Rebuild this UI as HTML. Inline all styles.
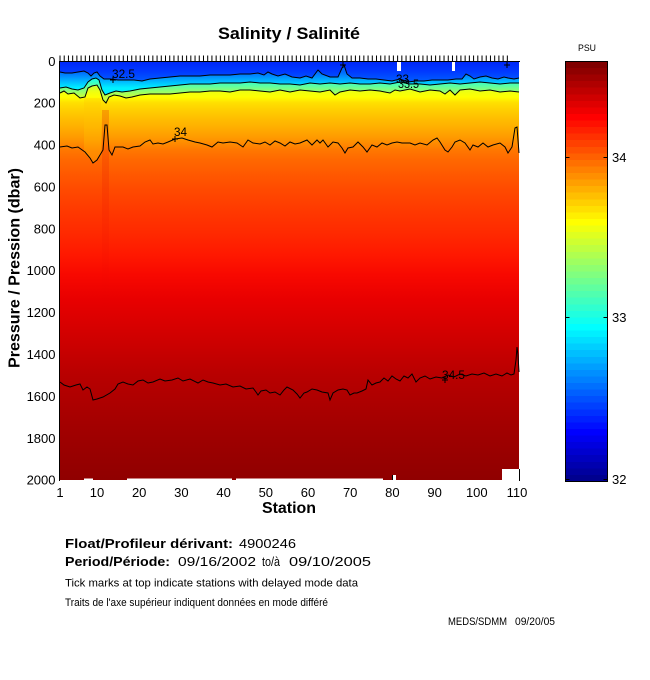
<!DOCTYPE html>
<html><head><meta charset="utf-8"><style>
html,body{margin:0;padding:0;background:#fff;width:650px;height:680px;overflow:hidden}
svg{display:block}
text{font-family:"Liberation Sans",Arial,sans-serif;fill:#000}
</style></head><body>
<svg width="650" height="680" viewBox="0 0 650 680" xmlns="http://www.w3.org/2000/svg">
<defs>
<linearGradient id="bg" gradientUnits="userSpaceOnUse" x1="0" y1="61" x2="0" y2="480">
<stop offset="0" stop-color="#a0ff60"/>
<stop offset=".057" stop-color="#bfff40"/>
<stop offset=".074" stop-color="#efff10"/>
<stop offset=".086" stop-color="#ffff00"/>
<stop offset=".100" stop-color="#ffdf00"/>
<stop offset=".117" stop-color="#ffcf00"/>
<stop offset=".136" stop-color="#ffbf00"/>
<stop offset=".158" stop-color="#ffaf00"/>
<stop offset=".177" stop-color="#ff9f00"/>
<stop offset=".193" stop-color="#ff8f00"/>
<stop offset=".212" stop-color="#ff7800"/>
<stop offset=".236" stop-color="#ff6800"/>
<stop offset=".272" stop-color="#ff5800"/>
<stop offset=".313" stop-color="#ff4800"/>
<stop offset=".360" stop-color="#ff3800"/>
<stop offset=".415" stop-color="#ff2800"/>
<stop offset=".463" stop-color="#ff1800"/>
<stop offset=".511" stop-color="#f80800"/>
<stop offset=".570" stop-color="#e80000"/>
<stop offset=".630" stop-color="#d80000"/>
<stop offset=".690" stop-color="#c80000"/>
<stop offset=".749" stop-color="#b80000"/>
<stop offset=".809" stop-color="#ae0000"/>
<stop offset=".869" stop-color="#a30000"/>
<stop offset=".928" stop-color="#9a0000"/>
<stop offset=".976" stop-color="#930000"/>
<stop offset="1" stop-color="#900000"/>
</linearGradient>
<linearGradient id="g1" gradientUnits="userSpaceOnUse" x1="0" y1="62" x2="0" y2="80">
<stop offset="0" stop-color="#0028f8"/><stop offset=".5" stop-color="#0038ff"/><stop offset="1" stop-color="#0058ff"/>
</linearGradient>
<linearGradient id="g2" gradientUnits="userSpaceOnUse" x1="0" y1="72" x2="0" y2="88">
<stop offset="0" stop-color="#0068ff"/><stop offset="1" stop-color="#00f0ff"/>
</linearGradient>
<linearGradient id="g3" gradientUnits="userSpaceOnUse" x1="0" y1="80" x2="0" y2="96">
<stop offset="0" stop-color="#20ffdf"/><stop offset="1" stop-color="#c0ff40"/>
</linearGradient>
<linearGradient id="st" gradientUnits="userSpaceOnUse" x1="0" y1="110" x2="0" y2="340">
<stop offset="0" stop-color="#e00000" stop-opacity=".22"/><stop offset="1" stop-color="#e00000" stop-opacity="0"/>
</linearGradient>
</defs>

<!-- title -->
<text x="218" y="39" font-size="17" font-weight="bold" textLength="142" lengthAdjust="spacingAndGlyphs">Salinity / Salinité</text>

<!-- axes lines (under image) -->
<line x1="59.5" y1="61" x2="59.5" y2="481" stroke="#000"/>

<!-- field -->
<rect x="60" y="62" width="459" height="418" fill="url(#bg)"/>
<polygon points="84,98 101,98 101,155 93,163 84,152" fill="#ffc800" opacity=".3"/>
<rect x="102" y="110" width="7" height="230" fill="url(#st)"/>
<polygon fill="url(#g3)" points="60,62 60,93 64,91 68,94 74,93 80,98 85,97 88,88 92,86 97,85 100,90 103,100 106,103 109,97 114,95 120,96 126,98 132,97 140,95 150,94 160,94 170,94 180,93 190,92 200,92 210,91 220,91 230,92 240,90 250,90 260,91 270,92 280,90 290,92 300,90 310,91 320,92 330,90 335,95 340,92 350,90 360,91 370,90 380,91 390,93 395,90 400,91 410,89 420,92 430,90 440,91 445,94 450,90 455,95 460,90 470,89 480,91 490,90 500,92 510,91 519,92 519,62"/>
<polygon fill="url(#g2)" points="60,62 60,88 66,87 72,89 78,90 84,88 88,82 92,79 96,78 99,80 102,90 105,95 110,93 116,91 122,92 130,91 140,89 150,88 160,87 170,86 180,85 190,84 200,84 210,84 220,83 230,83 240,83 250,82 260,83 270,83 280,84 290,84 300,85 310,83 320,84 330,83 340,84 350,83 360,84 370,84 380,83 390,84 400,82 410,84 420,84 430,85 440,84 450,83 460,84 470,83 480,82 490,83 500,84 510,83 519,83 519,62"/>
<polygon fill="url(#g1)" points="60,62 60,72 65,73 72,73 78,72 84,71 88,73 91,76 94,73 97,72 100,76 104,79 110,79 118,80 126,80 134,80 142,81 150,79 160,78 170,77 180,76 190,76 200,76 210,75 220,75 230,75 240,74 250,74 258,73 264,75 268,72 272,74 278,76 285,74 292,77 300,78 306,76 312,78 318,70 322,74 330,77 338,77 342,68 344,65 347,74 352,78 360,78 368,79 376,79 384,80 392,81 400,79 408,82 416,81 424,81 432,80 440,80 448,80 456,79 462,79 466,74 470,76 474,79 480,77 486,76 492,78 498,79 504,77 508,78 514,79 519,78 519,62"/>

<!-- contours -->
<g fill="none" stroke="#000" stroke-width="1">
<polyline points="60,72 65,73 72,73 78,72 84,71 88,73 91,76 94,73 97,72 100,76 104,79 110,79 118,80 126,80 134,80 142,81 150,79 160,78 170,77 180,76 190,76 200,76 210,75 220,75 230,75 240,74 250,74 258,73 264,75 268,72 272,74 278,76 285,74 292,77 300,78 306,76 312,78 318,70 322,74 330,77 338,77 342,68 344,65 347,74 352,78 360,78 368,79 376,79 384,80 392,81 400,79 408,82 416,81 424,81 432,80 440,80 448,80 456,79 462,79 466,74 470,76 474,79 480,77 486,76 492,78 498,79 504,77 508,78 514,79 519,78"/>
<polyline points="60,88 66,87 72,89 78,90 84,88 88,82 92,79 96,78 99,80 102,90 105,95 110,93 116,91 122,92 130,91 140,89 150,88 160,87 170,86 180,85 190,84 200,84 210,84 220,83 230,83 240,83 250,82 260,83 270,83 280,84 290,84 300,85 310,83 320,84 330,83 340,84 350,83 360,84 370,84 380,83 390,84 400,82 410,84 420,84 430,85 440,84 450,83 460,84 470,83 480,82 490,83 500,84 510,83 519,83"/>
<polyline points="60,93 64,91 68,94 74,93 80,98 85,97 88,88 92,86 97,85 100,90 103,100 106,103 109,97 114,95 120,96 126,98 132,97 140,95 150,94 160,94 170,94 180,93 190,92 200,92 210,91 220,91 230,92 240,90 250,90 260,91 270,92 280,90 290,92 300,90 310,91 320,92 330,90 335,95 340,92 350,90 360,91 370,90 380,91 390,93 395,90 400,91 410,89 420,92 430,90 440,91 445,94 450,90 455,95 460,90 470,89 480,91 490,90 500,92 510,91 519,92"/>
<polyline points="60,147 67,146 72,148 78,147 85,152 90,158 93,163 97,160 100,155 103,150 105,125 107,125 109,150 112,155 115,147 123,147 128,149 133,147 140,146 145,142 150,140 153,144 158,143 163,144 168,142 175,139 182,138 188,140 195,142 200,143 207,145 212,147 218,142 223,143 230,142 237,143 243,147 248,140 253,143 260,144 265,142 270,145 275,141 280,143 285,146 290,142 295,144 300,143 307,140 312,145 317,140 320,143 323,140 328,147 333,142 338,143 342,148 345,153 348,148 353,147 358,142 363,147 367,152 372,145 377,147 382,143 387,145 392,143 397,142 402,143 410,143 415,145 420,143 427,145 433,140 437,138 440,142 445,150 448,152 452,147 455,142 460,140 465,143 470,150 473,145 478,147 483,143 488,147 493,145 500,143 505,147 508,153 512,147 515,128 517,127 518,140 519,153"/>
<polyline points="60,382 64,385 70,387 76,385 80,384 83,390 87,387 90,389 93,400 97,399 103,397 110,393 115,389 118,384 123,382 128,384 133,385 138,381 143,380 148,383 153,382 160,379 165,381 172,380 178,378 183,381 190,379 198,383 203,380 208,382 213,383 220,385 226,384 233,387 240,386 246,389 253,388 256,392 258,395 261,391 266,390 270,393 275,392 280,395 284,390 287,387 293,390 297,394 300,398 304,393 307,392 312,389 317,390 322,392 328,393 330,400 333,393 338,390 343,389 347,390 350,395 354,393 357,393 362,391 366,389 368,380 372,385 376,383 380,382 384,378 388,381 392,376 396,379 400,381 404,376 408,378 412,374 416,382 420,378 425,376 430,379 436,377 442,378 448,375 454,377 460,374 466,376 472,374 478,375 484,373 490,376 496,374 502,376 507,373 511,375 514,374 516,360 517,347 518,355 519,372"/>
<path d="M340,65h6M343,62v6M504,65h6M507,62v6M172,139h6M175,136v6M442,380h6M445,377v6M110,80h6M113,77v6"/>
</g>

<!-- contour labels -->
<text x="112" y="78" font-size="12" textLength="23" lengthAdjust="spacingAndGlyphs">32.5</text>
<text x="174" y="136" font-size="12" textLength="13" lengthAdjust="spacingAndGlyphs">34</text>
<text x="442" y="379" font-size="12" textLength="23" lengthAdjust="spacingAndGlyphs">34.5</text>
<text x="396" y="83" font-size="12" textLength="13" lengthAdjust="spacingAndGlyphs">33</text>
<text x="398" y="88" font-size="12" textLength="21" lengthAdjust="spacingAndGlyphs">33.5</text>

<!-- missing-data patches -->
<rect x="397" y="62" width="4" height="9" fill="#fff"/>
<rect x="452" y="62" width="3" height="9" fill="#fff"/>
<rect x="84" y="478.5" width="9" height="1.5" fill="#fff"/>
<rect x="127" y="478.5" width="105" height="1.5" fill="#fff"/>
<rect x="236" y="478.5" width="147" height="1.5" fill="#fff"/>
<rect x="392" y="475" width="4" height="5" fill="#fff"/>
<rect x="502" y="469" width="17.5" height="11.5" fill="#fff"/>
<line x1="392.5" y1="475" x2="392.5" y2="480" stroke="#000"/>
<line x1="519.5" y1="469" x2="519.5" y2="481" stroke="#000"/>

<!-- top axis + delayed mode ticks -->
<line x1="59" y1="61.5" x2="520" y2="61.5" stroke="#000"/>
<line x1="59.5" y1="58.5" x2="511" y2="58.5" stroke="#000" stroke-width="6" stroke-dasharray="1 3.2202"/>

<!-- y tick labels -->
<g font-size="13" text-anchor="end">
<text x="55.5" y="66">0</text>
<text x="55.5" y="107.6">200</text>
<text x="55.5" y="149.5">400</text>
<text x="55.5" y="191.4">600</text>
<text x="55.5" y="233.3">800</text>
<text x="55.5" y="275.2">1000</text>
<text x="55.5" y="317.1">1200</text>
<text x="55.5" y="359">1400</text>
<text x="55.5" y="400.9">1600</text>
<text x="55.5" y="442.8">1800</text>
<text x="55.5" y="484.7">2000</text>
</g>
<!-- x tick labels -->
<g font-size="13" text-anchor="middle">
<text x="60" y="497">1</text>
<text x="97" y="497">10</text>
<text x="139.2" y="497">20</text>
<text x="181.4" y="497">30</text>
<text x="223.6" y="497">40</text>
<text x="265.8" y="497">50</text>
<text x="308" y="497">60</text>
<text x="350.2" y="497">70</text>
<text x="392.4" y="497">80</text>
<text x="434.6" y="497">90</text>
<text x="476.8" y="497">100</text>
<text x="517" y="497">110</text>
</g>
<text x="262" y="513" font-size="16" font-weight="bold" textLength="54" lengthAdjust="spacingAndGlyphs">Station</text>
<text transform="translate(19.5,268) rotate(-90)" font-size="16" font-weight="bold" text-anchor="middle" textLength="200" lengthAdjust="spacingAndGlyphs">Pressure / Pression (dbar)</text>

<!-- colorbar -->
<g shape-rendering="crispEdges">
<rect x="565" y="61" width="43" height="7.5" fill="#800000"/>
<rect x="565" y="68" width="43" height="7.5" fill="#8f0000"/>
<rect x="565" y="74.6" width="43" height="7.5" fill="#9f0000"/>
<rect x="565" y="81.2" width="43" height="7.5" fill="#af0000"/>
<rect x="565" y="87.7" width="43" height="7.5" fill="#bf0000"/>
<rect x="565" y="94.3" width="43" height="7.5" fill="#cf0000"/>
<rect x="565" y="100.9" width="43" height="7.5" fill="#df0000"/>
<rect x="565" y="107.4" width="43" height="7.5" fill="#ef0000"/>
<rect x="565" y="114" width="43" height="7.5" fill="#ff0000"/>
<rect x="565" y="120.6" width="43" height="7.5" fill="#ff1000"/>
<rect x="565" y="127.1" width="43" height="7.5" fill="#ff2000"/>
<rect x="565" y="133.7" width="43" height="7.5" fill="#ff3000"/>
<rect x="565" y="140.2" width="43" height="7.5" fill="#ff4000"/>
<rect x="565" y="146.8" width="43" height="7.5" fill="#ff5000"/>
<rect x="565" y="153.4" width="43" height="7.5" fill="#ff6000"/>
<rect x="565" y="159.9" width="43" height="7.5" fill="#ff7000"/>
<rect x="565" y="166.5" width="43" height="7.5" fill="#ff8000"/>
<rect x="565" y="173.1" width="43" height="7.5" fill="#ff8f00"/>
<rect x="565" y="179.6" width="43" height="7.5" fill="#ff9f00"/>
<rect x="565" y="186.2" width="43" height="7.5" fill="#ffaf00"/>
<rect x="565" y="192.7" width="43" height="7.5" fill="#ffbf00"/>
<rect x="565" y="199.3" width="43" height="7.5" fill="#ffcf00"/>
<rect x="565" y="205.9" width="43" height="7.5" fill="#ffdf00"/>
<rect x="565" y="212.4" width="43" height="7.5" fill="#ffef00"/>
<rect x="565" y="219" width="43" height="7.5" fill="#ffff00"/>
<rect x="565" y="225.6" width="43" height="7.5" fill="#efff10"/>
<rect x="565" y="232.1" width="43" height="7.5" fill="#dfff20"/>
<rect x="565" y="238.7" width="43" height="7.5" fill="#cfff30"/>
<rect x="565" y="245.2" width="43" height="7.5" fill="#bfff40"/>
<rect x="565" y="251.8" width="43" height="7.5" fill="#afff50"/>
<rect x="565" y="258.4" width="43" height="7.5" fill="#9fff60"/>
<rect x="565" y="264.9" width="43" height="7.5" fill="#8fff70"/>
<rect x="565" y="271.5" width="43" height="7.5" fill="#80ff80"/>
<rect x="565" y="278.1" width="43" height="7.5" fill="#70ff8f"/>
<rect x="565" y="284.6" width="43" height="7.5" fill="#60ff9f"/>
<rect x="565" y="291.2" width="43" height="7.5" fill="#50ffaf"/>
<rect x="565" y="297.7" width="43" height="7.5" fill="#40ffbf"/>
<rect x="565" y="304.3" width="43" height="7.5" fill="#30ffcf"/>
<rect x="565" y="310.9" width="43" height="7.5" fill="#20ffdf"/>
<rect x="565" y="317.4" width="43" height="7.5" fill="#10ffef"/>
<rect x="565" y="324" width="43" height="7.5" fill="#00ffff"/>
<rect x="565" y="330.6" width="43" height="7.5" fill="#00efff"/>
<rect x="565" y="337.1" width="43" height="7.5" fill="#00dfff"/>
<rect x="565" y="343.7" width="43" height="7.5" fill="#00cfff"/>
<rect x="565" y="350.2" width="43" height="7.5" fill="#00bfff"/>
<rect x="565" y="356.8" width="43" height="7.5" fill="#00afff"/>
<rect x="565" y="363.4" width="43" height="7.5" fill="#009fff"/>
<rect x="565" y="369.9" width="43" height="7.5" fill="#008fff"/>
<rect x="565" y="376.5" width="43" height="7.5" fill="#0080ff"/>
<rect x="565" y="383.1" width="43" height="7.5" fill="#0070ff"/>
<rect x="565" y="389.6" width="43" height="7.5" fill="#0060ff"/>
<rect x="565" y="396.2" width="43" height="7.5" fill="#0050ff"/>
<rect x="565" y="402.7" width="43" height="7.5" fill="#0040ff"/>
<rect x="565" y="409.3" width="43" height="7.5" fill="#0030ff"/>
<rect x="565" y="415.9" width="43" height="7.5" fill="#0020ff"/>
<rect x="565" y="422.4" width="43" height="7.5" fill="#0010ff"/>
<rect x="565" y="429" width="43" height="7.5" fill="#0000ff"/>
<rect x="565" y="435.6" width="43" height="7.5" fill="#0000ef"/>
<rect x="565" y="442.1" width="43" height="7.5" fill="#0000df"/>
<rect x="565" y="448.7" width="43" height="7.5" fill="#0000cf"/>
<rect x="565" y="455.2" width="43" height="7.5" fill="#0000bf"/>
<rect x="565" y="461.8" width="43" height="7.5" fill="#0000af"/>
<rect x="565" y="468.4" width="43" height="7.5" fill="#00009f"/>
<rect x="565" y="474.9" width="43" height="6.6" fill="#00008f"/>
</g>
<rect x="565.5" y="61.5" width="42" height="420" fill="none" stroke="#000"/>
<path d="M565.5,157.5h4M603.5,157.5h4M565.5,317.5h4M603.5,317.5h4M565.5,479.5h4M603.5,479.5h4" stroke="#000" fill="none"/>
<g font-size="13">
<text x="612" y="162">34</text>
<text x="612" y="322">33</text>
<text x="612" y="484">32</text>
</g>
<text x="578" y="51" font-size="9" textLength="18" lengthAdjust="spacingAndGlyphs">PSU</text>

<!-- footer text -->
<text x="65" y="548" font-size="13" font-weight="bold" textLength="168" lengthAdjust="spacingAndGlyphs">Float/Profileur dérivant:</text>
<text x="239" y="548" font-size="13" textLength="57" lengthAdjust="spacingAndGlyphs">4900246</text>
<text x="65" y="566" font-size="13" font-weight="bold" textLength="105" lengthAdjust="spacingAndGlyphs">Period/Période:</text>
<text x="178" y="566" font-size="13" textLength="78" lengthAdjust="spacingAndGlyphs">09/16/2002</text>
<text x="262" y="566" font-size="13" textLength="18" lengthAdjust="spacingAndGlyphs">to/à</text>
<text x="289" y="566" font-size="13" textLength="82" lengthAdjust="spacingAndGlyphs">09/10/2005</text>
<text x="65" y="586.5" font-size="11" textLength="293" lengthAdjust="spacingAndGlyphs">Tick marks at top indicate stations with delayed mode data</text>
<text x="65" y="606" font-size="11" textLength="263" lengthAdjust="spacingAndGlyphs">Traits de l'axe supérieur indiquent données en mode différé</text>
<text x="448" y="625" font-size="11" textLength="59" lengthAdjust="spacingAndGlyphs">MEDS/SDMM</text>
<text x="515" y="625" font-size="11" textLength="40" lengthAdjust="spacingAndGlyphs">09/20/05</text>
</svg>
</body></html>
